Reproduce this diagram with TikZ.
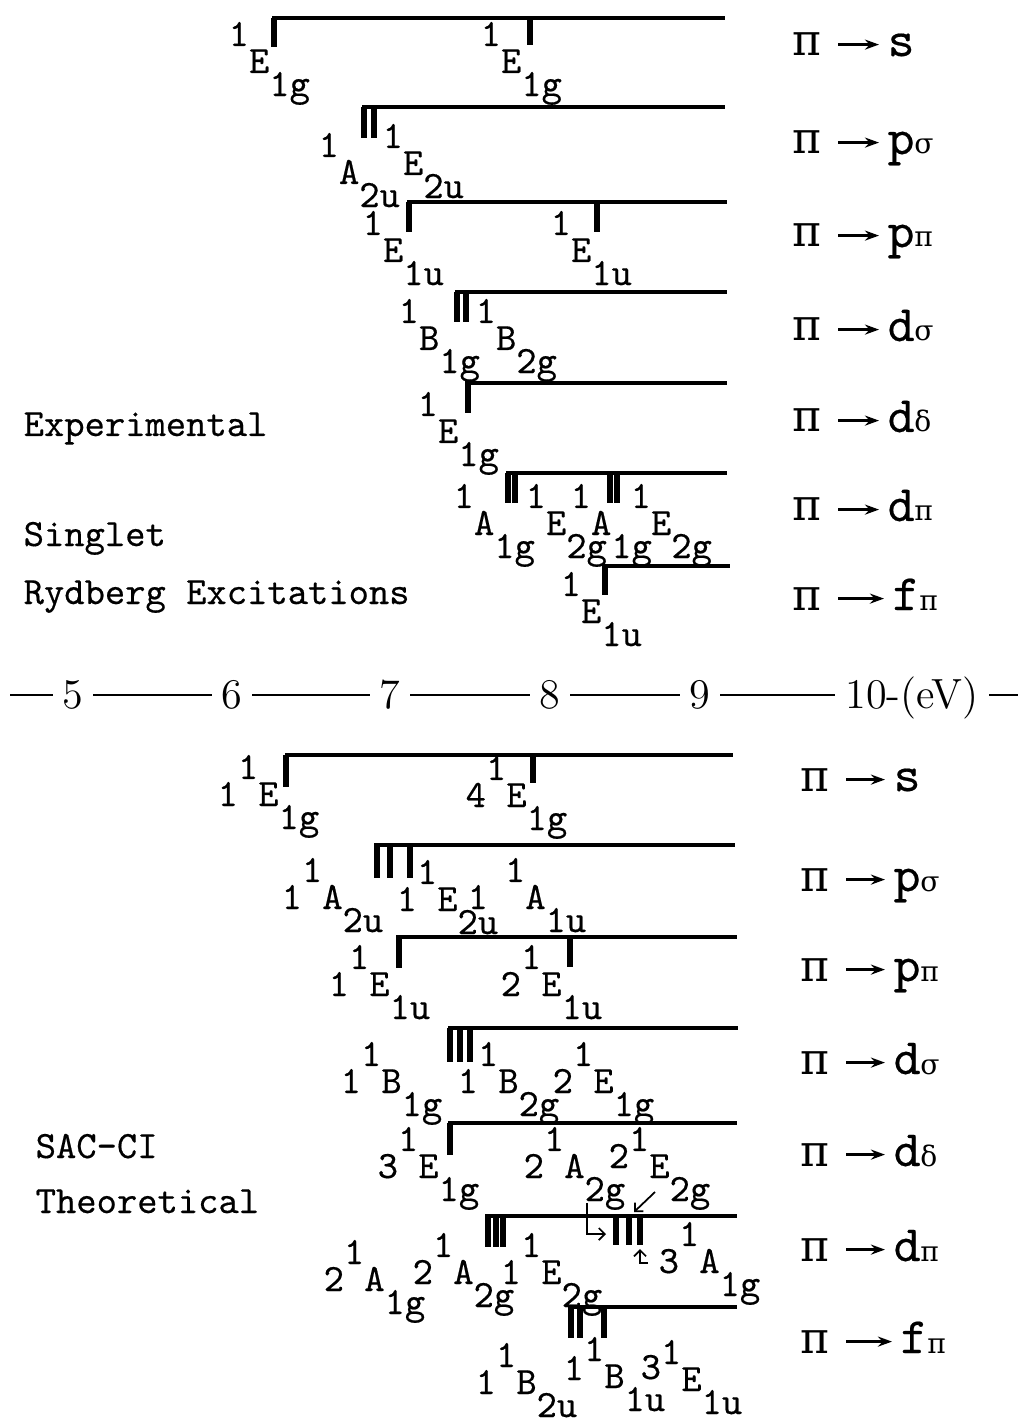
\documentclass[tikz,border=0pt]{standalone}
\usepackage{fontspec}
\newfontfamily\tw{lmmono10-regular.otf}[FakeBold=0.4]
\newfontfamily\grk{DejaVu Serif}
\usetikzlibrary{arrows.meta}

\newcommand{\Hi}[1]{\raisebox{0.27cm}{#1}}
\newcommand{\Lo}[1]{\raisebox{-0.23cm}{#1}}
\newcommand{\tsb}[1]{{\grk\fontsize{8}{8}\selectfont #1}}

\tikzset{
  lvl/.style={line width=0.9pt},
  tck/.style={line width=1.5pt},
  st/.style={anchor=base west, inner sep=0pt, font=\tw\fontsize{11}{12}\selectfont},
  trpi/.style={anchor=base west, inner sep=0pt, font=\grk\fontsize{12.5}{13}\selectfont},
  trn/.style={anchor=base west, inner sep=0pt, font=\tw\fontsize{14.5}{15}\selectfont},
  trarr/.style={line width=0.9pt, -{Stealth[length=0.14cm, width=0.1cm]}, shorten <=0.16cm, shorten >=0.08cm},
  axl/.style={line width=0.85pt},
  axn/.style={anchor=base, fill=white, inner xsep=0.1cm, inner ysep=1pt, font=\fontsize{12}{12}\selectfont},
  hook/.style={line width=0.5pt, -{Straight Barb[length=0.06cm]}}
}

\begin{document}
\begin{tikzpicture}[x=0.01cm, y=-0.01cm]
\useasboundingbox (0,0) rectangle (1023,1422);

% experimental levels
\draw[lvl] (272,18) -- (725,18);
\draw[tck] (274,18) -- (274,47); \draw[tck] (530,18) -- (530,45);
\draw[lvl] (362,107) -- (725,107);
\draw[tck] (364,107) -- (364,138); \draw[tck] (374,107) -- (374,138);
\draw[lvl] (407,202) -- (727,202);
\draw[tck] (409,202) -- (409,232); \draw[tck] (597,202) -- (597,232);
\draw[lvl] (455,292) -- (727,292);
\draw[tck] (457,292) -- (457,322); \draw[tck] (466,292) -- (466,322);
\draw[lvl] (465,383) -- (727,383);
\draw[tck] (468,383) -- (468,413);
\draw[lvl] (506,473) -- (727,473);
\foreach \tx in {508,515,610,617} \draw[tck] (\tx,473) -- (\tx,503);
\draw[lvl] (602,566) -- (730,566);
\draw[tck] (605,566) -- (605,595);

\node[st] (u1a) at (228,73) {\Hi{1}E\Lo{1g}};
\node[st] (u1b) at (480,73) {\Hi{1}E\Lo{1g}};
\node[st] (u2a) at (318,184) {\Hi{1}A\Lo{2u}};
\node[st] (u2b) at (382,175) {\Hi{1}E\Lo{2u}};
\node[st] (u3a) at (362,262) {\Hi{1}E\Lo{1u}};
\node[st] (u3b) at (550,262) {\Hi{1}E\Lo{1u}};
\node[st] (u4a) at (398,350) {\Hi{1}B\Lo{1g}};
\node[st] (u4b) at (475,350) {\Hi{1}B\Lo{2g}};
\node[st] (u5) at (417,443) {\Hi{1}E\Lo{1g}};
\node[st] (u6a) at (453,535) {\Hi{1}A\Lo{1g}};
\node[st] (u6b) at (525,535) {\Hi{1}E\Lo{2g}};
\node[st] (u6c) at (570,535) {\Hi{1}A\Lo{1g}};
\node[st] (u6d) at (630,535) {\Hi{1}E\Lo{2g}};
\node[st] (u7) at (560,623) {\Hi{1}E\Lo{1u}};

\node[st] (exp) at (23,436) {Experimental};
\node[st] (sgl) at (23,546) {Singlet};
\node[st] (ryd) at (23,604) {Rydberg Excitations};

% energy axis
\draw[axl] (10,695) -- (1018,695);
\node[axn] (ax5) at (73,708) {5};
\node[axn] (ax6) at (232,708) {6};
\node[axn] (ax7) at (390,708) {7};
\node[axn] (ax8) at (550,708) {8};
\node[axn] (ax9) at (700,708) {9};
\node[axn] (ax10) at (912,708) {10-(eV)};

% SAC-CI levels
\draw[lvl] (285,755) -- (733,755);
\draw[tck] (286,755) -- (286,787); \draw[tck] (533,755) -- (533,783);
\draw[lvl] (374,845) -- (735,845);
\foreach \tx in {377,390,410} \draw[tck] (\tx,845) -- (\tx,878);
\draw[lvl] (396,937) -- (737,937);
\draw[tck] (399,937) -- (399,968); \draw[tck] (570,937) -- (570,967);
\draw[lvl] (448,1028) -- (738,1028);
\foreach \tx in {450,460,470} \draw[tck] (\tx,1028) -- (\tx,1062);
\draw[lvl] (448,1123) -- (737,1123);
\draw[tck] (450,1123) -- (450,1155);
\draw[lvl] (485,1216) -- (737,1216);
\foreach \tx in {488,496,503} \draw[tck] (\tx,1216) -- (\tx,1247);
\foreach \tx in {616,629,640} \draw[tck] (\tx,1216) -- (\tx,1245);
\draw[lvl] (569,1307) -- (737,1307);
\foreach \tx in {571,580,604} \draw[tck] (\tx,1307) -- (\tx,1338);

\node[st] (l1a) at (217,806) {1\Hi{1}E\Lo{1g}};
\node[st] (l1b) at (465,807) {4\Hi{1}E\Lo{1g}};
\node[st] (l2a) at (281,909) {1\Hi{1}A\Lo{2u}};
\node[st] (l2b) at (396,911) {1\Hi{1}E\Lo{2u}};
\node[st] (l2c) at (467,909) {1\hspace{0.17cm}\Hi{1}A\Lo{1u}};
\node[st] (l3a) at (328,996) {1\Hi{1}E\Lo{1u}};
\node[st] (l3b) at (500,996) {2\Hi{1}E\Lo{1u}};
\node[st] (l4a) at (340,1093) {1\Hi{1}B\Lo{1g}};
\node[st] (l4b) at (457,1093) {1\Hi{1}B\Lo{2g}};
\node[st] (l4c) at (552,1093) {2\Hi{1}E\Lo{1g}};
\node[st] (l5a) at (377,1178) {3\Hi{1}E\Lo{1g}};
\node[st] (l5b) at (523,1178) {2\Hi{1}A\Lo{2g}};
\node[st] (l5c) at (608,1178) {\raisebox{0.1cm}{2}\Hi{1}E\Lo{2g}};
\node[st] (l6a) at (323,1291) {2\Hi{1}A\Lo{1g}};
\node[st] (l6b) at (412,1284) {2\Hi{1}A\Lo{2g}};
\node[st] (l6c) at (500,1284) {1\Hi{1}E\Lo{2g}};
\node[st] (l6d) at (658,1273) {3\Hi{1}A\Lo{1g}};
\node[st] (l7a) at (475,1394) {1\Hi{1}B\Lo{2u}};
\node[st] (l7b) at (563,1388) {\raisebox{0.08cm}{1}\Hi{1}B\Lo{1u}};
\node[st] (l7c) at (640,1391) {\raisebox{0.12cm}{3}\Hi{1}E\Lo{1u}};

% small pointers to the crowded d-pi levels
\coordinate (a1s) at (655,1192); \coordinate (a1e) at (634,1212);
\draw[hook] (a1s) -- (a1e);
\coordinate (a2s) at (587,1203); \coordinate (a2e) at (606,1234);
\draw[hook] (a2s) |- (a2e);
\coordinate (a3s) at (648,1263); \coordinate (a3e) at (640,1249);
\draw[hook] (a3s) -| (a3e);

\node[st] (sac) at (35,1158) {SAC-CI};
\node[st] (thr) at (35,1213) {Theoretical};

% transitions
\foreach \nm/\px/\lx/\yy/\ltr/\sb in {
  es/792/887/45/s/{}, epo/792/887/143/p/σ, epp/792/887/236/p/π,
  edo/792/887/330/d/σ, edd/792/887/421/d/δ, edp/792/887/510/d/π,
  efp/792/892/599/f/π,
  ts/800/893/780/s/{}, tpo/800/893/880/p/σ, tpp/800/893/970/p/π,
  tdo/800/893/1063/d/σ, tdd/800/893/1155/d/δ, tdp/800/893/1250/d/π,
  tfp/800/900/1342/f/π}{
  \node[trpi] (\nm-pi) at (\px,\yy+11) {π};
  \node[trn] (\nm-to) at (\lx,\yy+11) {\ltr\tsb{\sb}};
  \draw[trarr] (\nm-pi.east) -- (\nm-pi.east -| \nm-to.west);
}
\end{tikzpicture}
\end{document}
